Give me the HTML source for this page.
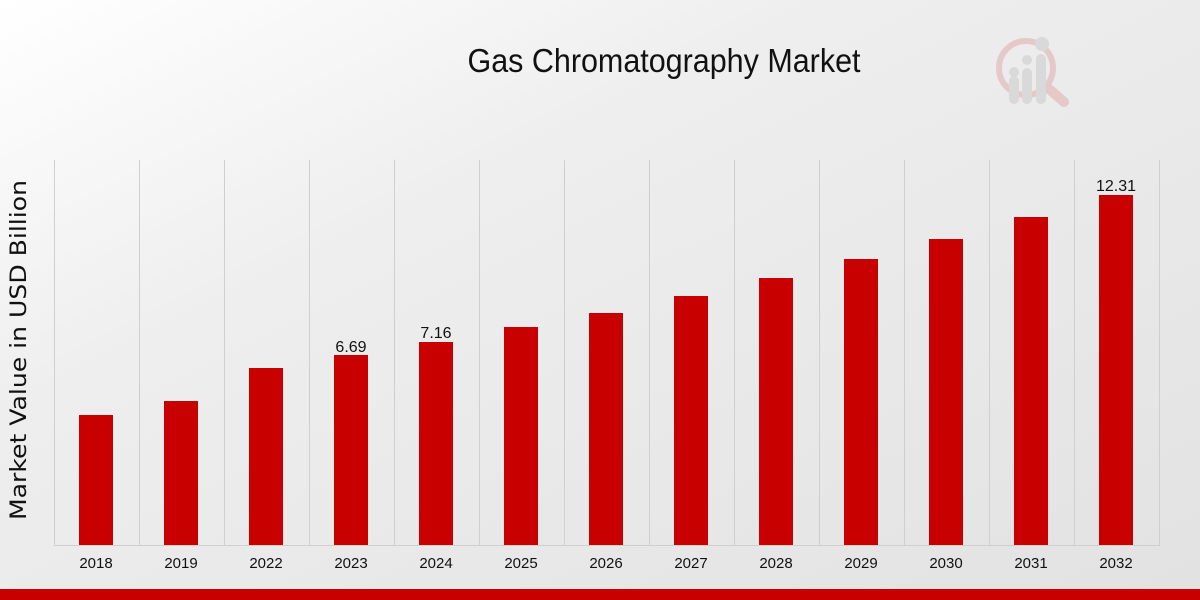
<!DOCTYPE html>
<html><head><meta charset="utf-8"><style>
html,body{margin:0;padding:0;width:1200px;height:600px;overflow:hidden}
</style></head><body>
<svg width="1200" height="600" xmlns="http://www.w3.org/2000/svg">
<defs>
<linearGradient id="bg" x1="0" y1="0" x2="1" y2="1">
<stop offset="0" stop-color="#ffffff"/><stop offset="0.35" stop-color="#eeeeee"/><stop offset="1" stop-color="#e2e2e2"/>
</linearGradient>
</defs>
<rect width="1200" height="600" fill="url(#bg)"/>
<g stroke="#cfcfcf" stroke-width="1">
<line x1="54.5" y1="160" x2="54.5" y2="545"/><line x1="139.5" y1="160" x2="139.5" y2="545"/>
<line x1="224.5" y1="160" x2="224.5" y2="545"/><line x1="309.5" y1="160" x2="309.5" y2="545"/>
<line x1="394.5" y1="160" x2="394.5" y2="545"/><line x1="479.5" y1="160" x2="479.5" y2="545"/>
<line x1="564.5" y1="160" x2="564.5" y2="545"/><line x1="649.5" y1="160" x2="649.5" y2="545"/>
<line x1="734.5" y1="160" x2="734.5" y2="545"/><line x1="819.5" y1="160" x2="819.5" y2="545"/>
<line x1="904.5" y1="160" x2="904.5" y2="545"/><line x1="989.5" y1="160" x2="989.5" y2="545"/>
<line x1="1074.5" y1="160" x2="1074.5" y2="545"/><line x1="1159.5" y1="160" x2="1159.5" y2="545"/>
<line x1="54" y1="545.5" x2="1160" y2="545.5"/>
</g>
<g fill="#c80000">
<rect x="79" y="415" width="34" height="130"/>
<rect x="164" y="401" width="34" height="144"/>
<rect x="249" y="368" width="34" height="177"/>
<rect x="334" y="355" width="34" height="190"/>
<rect x="419" y="342" width="34" height="203"/>
<rect x="504" y="327" width="34" height="218"/>
<rect x="589" y="313" width="34" height="232"/>
<rect x="674" y="296" width="34" height="249"/>
<rect x="759" y="278" width="34" height="267"/>
<rect x="844" y="259" width="34" height="286"/>
<rect x="929" y="239" width="34" height="306"/>
<rect x="1014" y="217" width="34" height="328"/>
<rect x="1099" y="195" width="34" height="350"/>
</g>
<g font-family="'Liberation Sans',sans-serif" font-size="15" fill="#111" text-anchor="middle">
<text x="96" y="568">2018</text><text x="181" y="568">2019</text><text x="266" y="568">2022</text>
<text x="351" y="568">2023</text><text x="436" y="568">2024</text><text x="521" y="568">2025</text>
<text x="606" y="568">2026</text><text x="691" y="568">2027</text><text x="776" y="568">2028</text>
<text x="861" y="568">2029</text><text x="946" y="568">2030</text><text x="1031" y="568">2031</text>
<text x="1116" y="568">2032</text>
<text x="351" y="352" font-size="16">6.69</text>
<text x="436" y="338" font-size="16">7.16</text>
<text x="1116" y="191" font-size="16">12.31</text>
<text x="664" y="72" font-size="33" textLength="393" lengthAdjust="spacingAndGlyphs">Gas Chromatography Market</text>
</g>
<text transform="translate(26,350) rotate(-90)" font-family="'DejaVu Sans',sans-serif" font-size="22" fill="#111" text-anchor="middle" textLength="340" lengthAdjust="spacingAndGlyphs">Market Value in USD Billion</text>
<g opacity="0.5">
<circle cx="1026" cy="68" r="27" fill="none" stroke="#e0a8a8" stroke-width="6"/>
<line x1="1048" y1="88" x2="1064" y2="102" stroke="#e0a8a8" stroke-width="10" stroke-linecap="round"/>
<g fill="#c8c8c8">
<rect x="1009" y="76" width="10" height="28" rx="5"/><circle cx="1014" cy="72" r="5"/>
<rect x="1022" y="68" width="10" height="36" rx="5"/><circle cx="1027" cy="60" r="5"/>
<rect x="1036" y="54" width="10" height="50" rx="5"/><circle cx="1042" cy="44" r="7"/>
</g></g>
<rect x="0" y="589" width="1200" height="11" fill="#c80000"/>
</svg>
</body></html>
